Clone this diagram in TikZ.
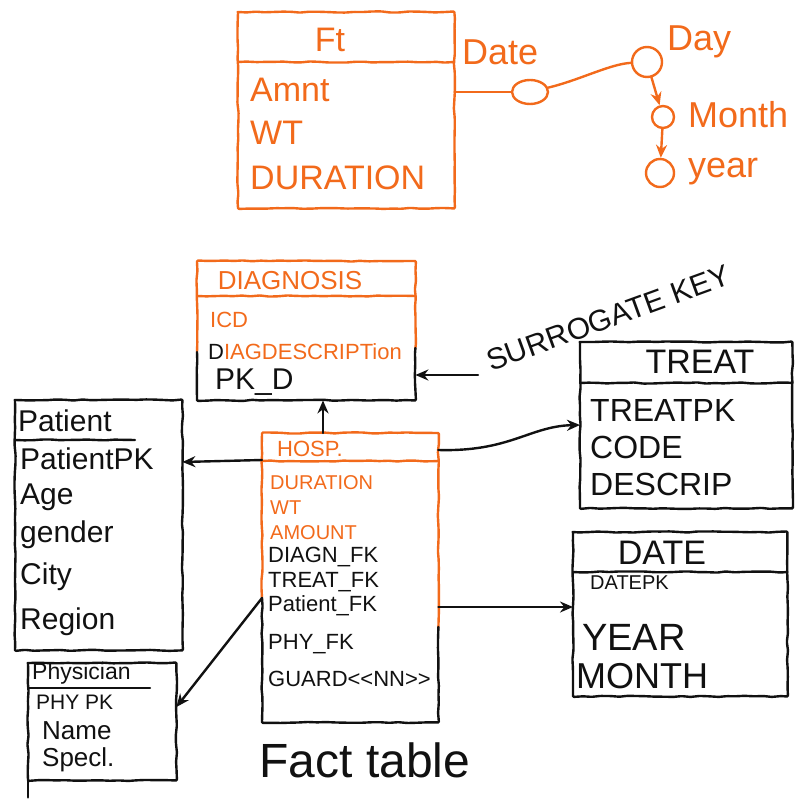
\documentclass[tikz,border=0pt]{standalone}
\usepackage{fontspec}
\setmainfont{Liberation Sans}
\usetikzlibrary{arrows.meta,shapes,decorations.pathmorphing}
\definecolor{ink}{HTML}{111111}
\definecolor{marker}{HTML}{F26A1B}
\tikzstyle{hand}=[decorate, decoration={random steps, segment length=9pt, amplitude=0.6pt}, rounded corners=1pt]
\tikzstyle{inkpen}=[line width=2.4pt, line cap=round, line join=round]
\tikzstyle{tblbox}=[rectangle, anchor=north west, inner sep=0pt
%,draw
]
\tikzstyle{attr}=[anchor=west, inner sep=0pt]
\tikzstyle{fkarrow}=[inkpen, ink, -{Stealth[length=13pt, width=11pt]}]
\tikzstyle{keydot}=[circle, draw, marker, inkpen, inner sep=0pt]
\newcommand{\fs}[1]{\fontsize{#1}{#1}\selectfont}

\begin{document}
\begin{tikzpicture}[x=1pt, y=-1pt]
    \useasboundingbox (0,0) rectangle (797,799);

    % Fact table sketch at the top
    \node[tblbox, minimum width=216pt, minimum height=196pt] (ft) at (238,12) {};
    \draw[inkpen, marker, hand] (ft.north west) rectangle (ft.south east);
    \draw[inkpen, marker, hand] (ft.west |- 0,62) -- (ft.east |- 0,62);
    \node[marker, font=\fs{34}] (fttitle) at (330,40) {Ft};
    \foreach \name/\yy/\txt in {ftamnt/90/Amnt, ftwt/133/WT, ftdur/178/DURATION}
        \node[attr, marker, font=\fs{34}] (\name) at (250,\yy) {\txt};

    % Date dimension hierarchy
    \node[draw, ellipse, marker, inkpen, minimum width=36pt, minimum height=24pt] (keyc) at (530,92) {};
    \node[keydot, minimum size=30pt] (day) at (647,62) {};
    \node[keydot, minimum size=22pt] (month) at (663,117) {};
    \node[keydot, minimum size=28pt] (year) at (660,173) {};
    \foreach \name/\pos/\txt in {datelbl/{(462,52)}/Date, daylbl/{(667,42)}/Day, monthlbl/{(688,115)}/Month, yearlbl/{(688,172)}/year}
        \node[attr, marker, font=\fs{36}] (\name) at \pos {\txt};
    \draw[inkpen, marker] (ft.east |- keyc) -- (keyc);
    \draw[inkpen, marker] (keyc) .. controls (580,80) and (610,64) .. (day);
    \draw[inkpen, marker, -{Stealth[length=13pt, width=11pt]}] (day) -- (month);
    \draw[inkpen, marker, -{Stealth[length=13pt, width=11pt]}] (month) -- (year);

    % Diagnosis
    \node[tblbox, minimum width=218pt, minimum height=139pt] (diag) at (197,261) {};
    \draw[inkpen, marker, hand] (diag.west |- 0,352) -- (diag.north west) -- (diag.north east) -- (diag.east |- 0,348);
    \draw[inkpen, ink, hand] (diag.west |- 0,352) -- (diag.south west) -- (diag.south east) -- (diag.east |- 0,348);
    \draw[inkpen, marker, hand] (diag.west |- 0,296) -- (diag.east |- 0,296);
    \node[marker, font=\fs{26}] (diagtitle) at (290,281) {DIAGNOSIS};
    \node[attr, marker, font=\fs{22}] (diagicd) at (210,320) {ICD};
    \node[attr, marker, font=\fs{22}] (diagdesc) at (208,352) {{\color{ink}D}IAGDESCRIPTion};
    \node[attr, ink, font=\fs{30}] (diagpk) at (215,382) {PK\_D};

    % Surrogate key note
    \node[ink, rotate=20, font=\fs{30}] (surr) at (608,318) {SURROGATE KEY};
    \coordinate (surrtail) at (478,375);
    \draw[fkarrow] (surrtail) -- (diag.east |- surrtail);

    % Patient
    \node[tblbox, minimum width=167pt, minimum height=250pt] (pat) at (15,400) {};
    \draw[inkpen, ink, hand] (pat.north west) rectangle (pat.south east);
    \draw[inkpen, ink, hand] (pat.west |- 0,440) -- ++(120,0);
    \node[attr, ink, font=\fs{30}] (pattitle) at (18,421) {Patient};
    \foreach \name/\yy/\txt in {patpk/459/PatientPK, patage/497/Age, patgen/535/gender, patcity/577/City, patreg/622/Region}
        \node[attr, ink, font=\fs{30}] (\name) at (20,\yy) {\txt};

    % Hospitalisation fact table
    \node[tblbox, minimum width=176pt, minimum height=289pt] (hosp) at (262,433) {};
    \draw[inkpen, marker, hand] (hosp.west |- 0,598) -- (hosp.north west) -- (hosp.north east) -- (hosp.east |- 0,627);
    \draw[inkpen, ink, hand] (hosp.west |- 0,598) -- (hosp.south west) -- (hosp.south east) -- (hosp.east |- 0,627);
    \draw[inkpen, marker, hand] (hosp.west |- 0,461) -- (hosp.east |- 0,461);
    \node[attr, marker, font=\fs{22}] (hosptitle) at (277,449) {HOSP.};
    \foreach \name/\yy/\txt in {hdur/483/DURATION, hwt/508/WT, hamt/533/AMOUNT}
        \node[attr, marker, font=\fs{20}] (\name) at (270,\yy) {\txt};
    \foreach \name/\yy/\txt in {hdiag/557/DIAGN\_FK, htreat/582/TREAT\_FK, hpat/606/Patient\_FK, hphy/644/PHY\_FK, hguard/679/GUARD<\kern0pt<NN>\kern0pt>}
        \node[attr, ink, font=\fs{22}] (\name) at (268,\yy) {\txt};

    % Physician
    \node[tblbox, minimum width=148pt, minimum height=117pt] (phys) at (28,663) {};
    \draw[inkpen, ink, hand] (phys.north west) rectangle (phys.south east);
    \draw[inkpen, ink] (phys.south west) -- ++(0,17);
    \draw[inkpen, ink] (phys.west |- 0,688) -- ++(122,0);
    \node[attr, ink, font=\fs{23}] (phystitle) at (32,674) {Physician};
    \node[attr, ink, font=\fs{21}] (physpk) at (36,702) {PHY PK};
    \node[attr, ink, font=\fs{26}] (physname) at (42,731) {Name};
    \node[attr, ink, font=\fs{26}] (physspec) at (42,760) {Specl.};

    % Treatment
    \node[tblbox, minimum width=212pt, minimum height=166pt] (treat) at (580,342) {};
    \draw[inkpen, ink, hand] (treat.north west) rectangle (treat.south east);
    \draw[inkpen, ink, hand] (treat.west |- 0,383) -- (treat.east |- 0,383);
    \node[ink, font=\fs{34}] (treattitle) at (700,362) {TREAT};
    \foreach \name/\yy/\txt in {tpk/410/TREATPK, tcode/447/CODE, tdesc/484/DESCRIP}
        \node[attr, ink, font=\fs{32}] (\name) at (590,\yy) {\txt};

    % Date
    \node[tblbox, minimum width=214pt, minimum height=164pt] (dte) at (573,532) {};
    \draw[inkpen, ink, hand] (dte.north west) rectangle (dte.south east);
    \draw[inkpen, ink, hand] (dte.west |- 0,572) -- (dte.east |- 0,572);
    \node[ink, font=\fs{34}] (dtetitle) at (662,553) {DATE};
    \node[attr, ink, font=\fs{20}] (dtepk) at (590,583) {DATEPK};
    \node[attr, ink, font=\fs{38}] (dteyear) at (582,637) {YEAR};
    \node[attr, ink, font=\fs{36}] (dtemonth) at (576,676) {MONTH};

    % Connect the fact table with its dimensions
    \draw[fkarrow] (hosp.north -| 323,0) -- (diag.south -| 323,0);
    \draw[fkarrow] (hosp.west |- 0,460) -- (pat.east |- 0,462);
    \draw[fkarrow] (hosp.east |- 0,450) .. controls (510,452) and (530,426) .. (treat.west |- 0,425);
    \draw[fkarrow] (hosp.east |- 0,607) -- (dte.west |- 0,607);
    \draw[fkarrow] (hosp.west |- 0,598) -- (phys.east |- 0,707);

    \node[ink, font=\fs{48}] (factlbl) at (365,760) {Fact table};
\end{tikzpicture}
\end{document}
